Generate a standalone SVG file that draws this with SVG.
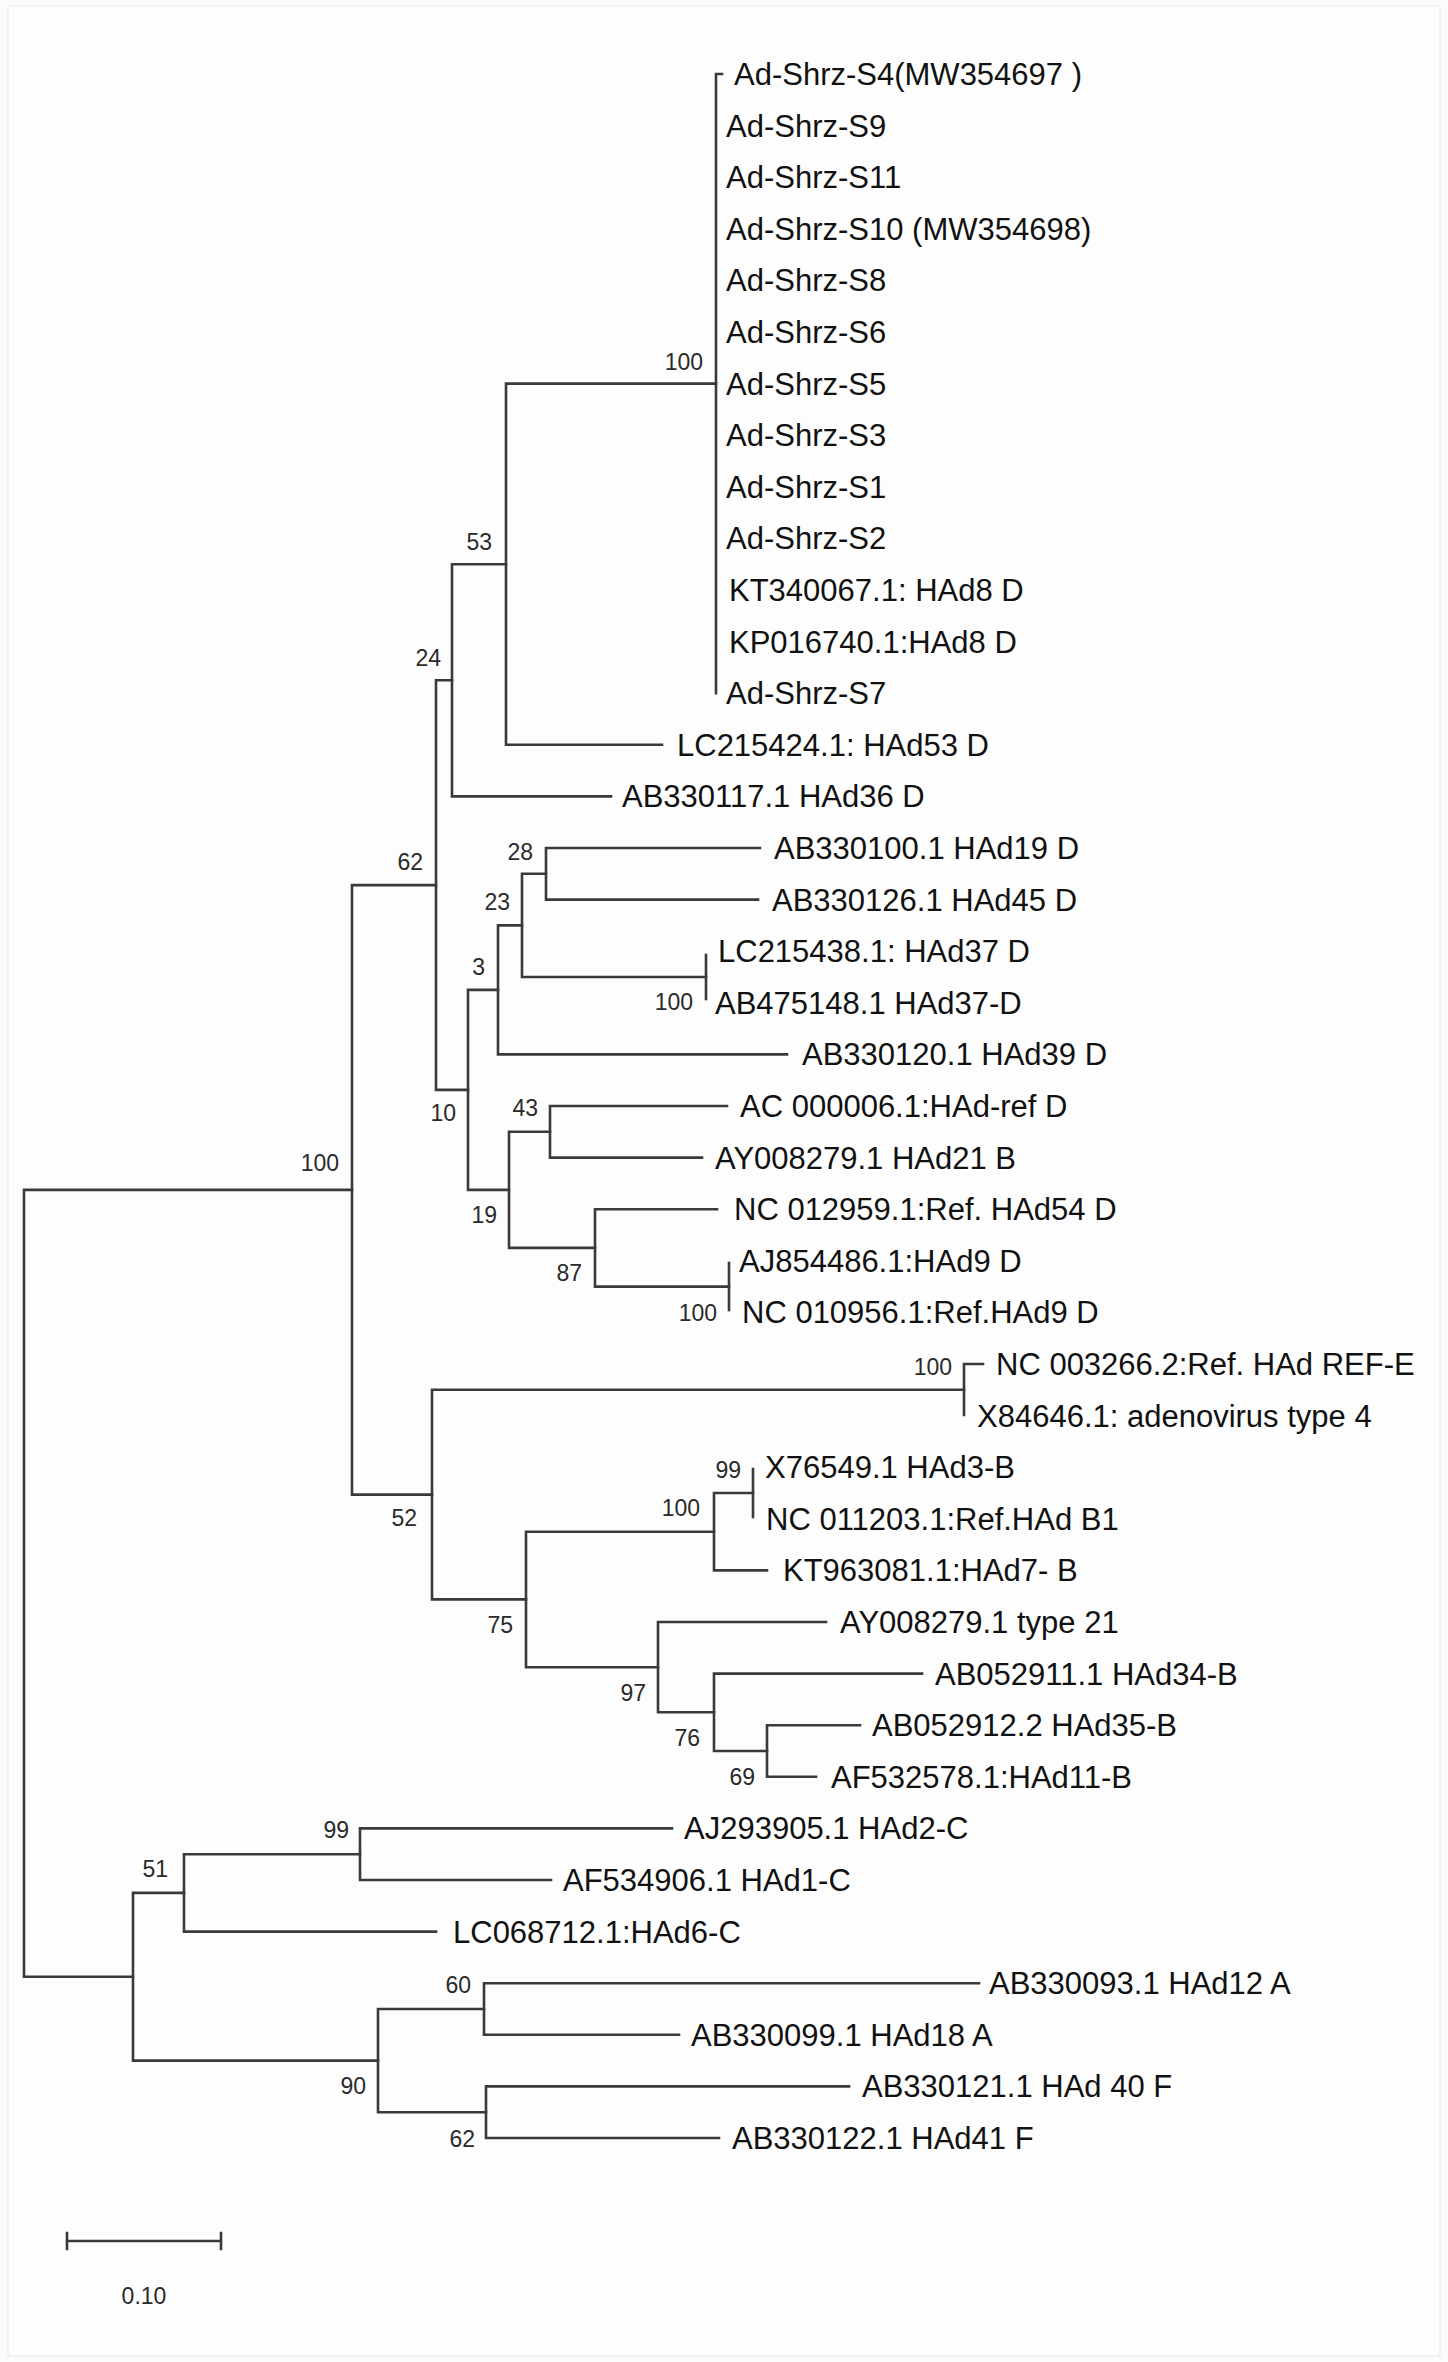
<svg xmlns="http://www.w3.org/2000/svg" width="1448" height="2362" viewBox="0 0 1448 2362">
<style>
.br{fill:none;stroke:#3a3a3a;stroke-width:2.6;stroke-linecap:square}
.lf{font-family:"Liberation Sans",Arial,sans-serif;font-size:31px;fill:#111}
.bs{font-family:"Liberation Sans",Arial,sans-serif;font-size:23px;fill:#2a2a2a;text-anchor:end}
</style>
<rect x="0" y="0" width="1448" height="2362" fill="#fbfbfb"/>
<rect x="8" y="6" width="1432" height="2350" fill="#fdfdfd" stroke="#f1f1f1" stroke-width="2"/>
<g id="connectors" class="br">
<path d="M24,1189.9V1976.8M24,1189.9H352M24,1976.8H133"/>
<path d="M352,885.1V1494.6M352,885.1H436M352,1494.6H432"/>
<path d="M436,680.3V1089.9M436,680.3H452M436,1089.9H468"/>
<path d="M452,564.2V796.4M452,564.2H506M452,796.4H611"/>
<path d="M506,383.6V744.8M506,383.6H716M506,744.8H662"/>
<path d="M716,74V693.2M716,74H722"/>
<path d="M468,989.9V1189.9M468,989.9H498M468,1189.9H509"/>
<path d="M498,925.4V1054.4M498,925.4H522M498,1054.4H787"/>
<path d="M522,873.8V977M522,873.8H546M522,977H706"/>
<path d="M546,848V899.6M546,848H760M546,899.6H758"/>
<path d="M706,955V999"/>
<path d="M509,1131.8V1247.9M509,1131.8H550M509,1247.9H595"/>
<path d="M550,1106V1157.6M550,1106H727M550,1157.6H702"/>
<path d="M595,1209.2V1286.6M595,1209.2H717M595,1286.6H729"/>
<path d="M729,1263V1310"/>
<path d="M432,1389.8V1599.4M432,1389.8H964M432,1599.4H526"/>
<path d="M964,1364V1415M964,1364H983"/>
<path d="M526,1531.7V1667.2M526,1531.7H714M526,1667.2H658"/>
<path d="M714,1493V1570.4M714,1493H753M714,1570.4H767"/>
<path d="M753,1469V1517"/>
<path d="M658,1622V1712.3M658,1622H826M658,1712.3H714"/>
<path d="M714,1673.6V1751M714,1673.6H922M714,1751H767"/>
<path d="M767,1725.2V1776.8M767,1725.2H860M767,1776.8H816"/>
<path d="M133,1892.9V2060.6M133,1892.9H184M133,2060.6H378"/>
<path d="M184,1854.2V1931.6M184,1854.2H360M184,1931.6H436"/>
<path d="M360,1828.4V1880M360,1828.4H672M360,1880H551"/>
<path d="M378,2009V2112.2M378,2009H484M378,2112.2H486"/>
<path d="M484,1983.2V2034.8M484,1983.2H979M484,2034.8H679"/>
<path d="M486,2086.4V2138M486,2086.4H849M486,2138H719"/>
</g>
<g id="leaves" class="lf">
<g id="leaf-S4"><text x="734" y="85">Ad-Shrz-S4(MW354697 )</text></g>
<g id="leaf-S9"><text x="726" y="136.6">Ad-Shrz-S9</text></g>
<g id="leaf-S11"><text x="726" y="188.2">Ad-Shrz-S11</text></g>
<g id="leaf-S10"><text x="726" y="239.8">Ad-Shrz-S10 (MW354698)</text></g>
<g id="leaf-S8"><text x="726" y="291.4">Ad-Shrz-S8</text></g>
<g id="leaf-S6"><text x="726" y="343">Ad-Shrz-S6</text></g>
<g id="leaf-S5"><text x="726" y="394.6">Ad-Shrz-S5</text></g>
<g id="leaf-S3"><text x="726" y="446.2">Ad-Shrz-S3</text></g>
<g id="leaf-S1"><text x="726" y="497.8">Ad-Shrz-S1</text></g>
<g id="leaf-S2"><text x="726" y="549.4">Ad-Shrz-S2</text></g>
<g id="leaf-KT340067"><text x="729" y="601">KT340067.1: HAd8 D</text></g>
<g id="leaf-KP016740"><text x="729" y="652.6">KP016740.1:HAd8 D</text></g>
<g id="leaf-S7"><text x="726" y="704.2">Ad-Shrz-S7</text></g>
<g id="leaf-LC215424"><text x="677" y="755.8">LC215424.1: HAd53 D</text></g>
<g id="leaf-AB330117"><text x="622" y="807.4">AB330117.1 HAd36 D</text></g>
<g id="leaf-AB330100"><text x="774" y="859">AB330100.1 HAd19 D</text></g>
<g id="leaf-AB330126"><text x="772" y="910.6">AB330126.1 HAd45 D</text></g>
<g id="leaf-LC215438"><text x="718" y="962.2">LC215438.1: HAd37 D</text></g>
<g id="leaf-AB475148"><text x="715" y="1013.8">AB475148.1 HAd37-D</text></g>
<g id="leaf-AB330120"><text x="802" y="1065.4">AB330120.1 HAd39 D</text></g>
<g id="leaf-AC000006"><text x="740" y="1117">AC 000006.1:HAd-ref D</text></g>
<g id="leaf-AY008279-21B"><text x="715" y="1168.6">AY008279.1 HAd21 B</text></g>
<g id="leaf-NC012959"><text x="734" y="1220.2">NC 012959.1:Ref. HAd54 D</text></g>
<g id="leaf-AJ854486"><text x="739" y="1271.8">AJ854486.1:HAd9 D</text></g>
<g id="leaf-NC010956"><text x="742" y="1323.4">NC 010956.1:Ref.HAd9 D</text></g>
<g id="leaf-NC003266"><text x="996" y="1375">NC 003266.2:Ref. HAd REF-E</text></g>
<g id="leaf-X84646"><text x="977" y="1426.6">X84646.1: adenovirus type 4</text></g>
<g id="leaf-X76549"><text x="765" y="1478.2">X76549.1 HAd3-B</text></g>
<g id="leaf-NC011203"><text x="766" y="1529.8">NC 011203.1:Ref.HAd B1</text></g>
<g id="leaf-KT963081"><text x="783" y="1581.4">KT963081.1:HAd7- B</text></g>
<g id="leaf-AY008279-t21"><text x="840" y="1633">AY008279.1 type 21</text></g>
<g id="leaf-AB052911"><text x="935" y="1684.6">AB052911.1 HAd34-B</text></g>
<g id="leaf-AB052912"><text x="872" y="1736.2">AB052912.2 HAd35-B</text></g>
<g id="leaf-AF532578"><text x="831" y="1787.8">AF532578.1:HAd11-B</text></g>
<g id="leaf-AJ293905"><text x="684" y="1839.4">AJ293905.1 HAd2-C</text></g>
<g id="leaf-AF534906"><text x="563" y="1891">AF534906.1 HAd1-C</text></g>
<g id="leaf-LC068712"><text x="453" y="1942.6">LC068712.1:HAd6-C</text></g>
<g id="leaf-AB330093"><text x="989" y="1994.2">AB330093.1 HAd12 A</text></g>
<g id="leaf-AB330099"><text x="691" y="2045.8">AB330099.1 HAd18 A</text></g>
<g id="leaf-AB330121"><text x="862" y="2097.4">AB330121.1 HAd 40 F</text></g>
<g id="leaf-AB330122"><text x="732" y="2149">AB330122.1 HAd41 F</text></g>
</g>
<g id="bootstrap" class="bs">
<text x="703" y="370">100</text>
<text x="492" y="550">53</text>
<text x="441" y="666">24</text>
<text x="423" y="870">62</text>
<text x="533" y="860">28</text>
<text x="510" y="910">23</text>
<text x="485" y="975">3</text>
<text x="693" y="1010">100</text>
<text x="456" y="1121">10</text>
<text x="339" y="1171">100</text>
<text x="538" y="1116">43</text>
<text x="497" y="1223">19</text>
<text x="582" y="1281">87</text>
<text x="717" y="1321">100</text>
<text x="952" y="1375">100</text>
<text x="741" y="1478">99</text>
<text x="700" y="1516">100</text>
<text x="417" y="1526">52</text>
<text x="513" y="1633">75</text>
<text x="646" y="1701">97</text>
<text x="700" y="1746">76</text>
<text x="755" y="1785">69</text>
<text x="349" y="1838">99</text>
<text x="168" y="1877">51</text>
<text x="471" y="1993">60</text>
<text x="366" y="2094">90</text>
<text x="475" y="2147">62</text>
</g>
<g id="scale-bar">
<path class="br" d="M67,2241H221M67,2233V2249M221,2233V2249"/>
<text x="144" y="2304" class="bs" style="text-anchor:middle">0.10</text>
</g>
</svg>
